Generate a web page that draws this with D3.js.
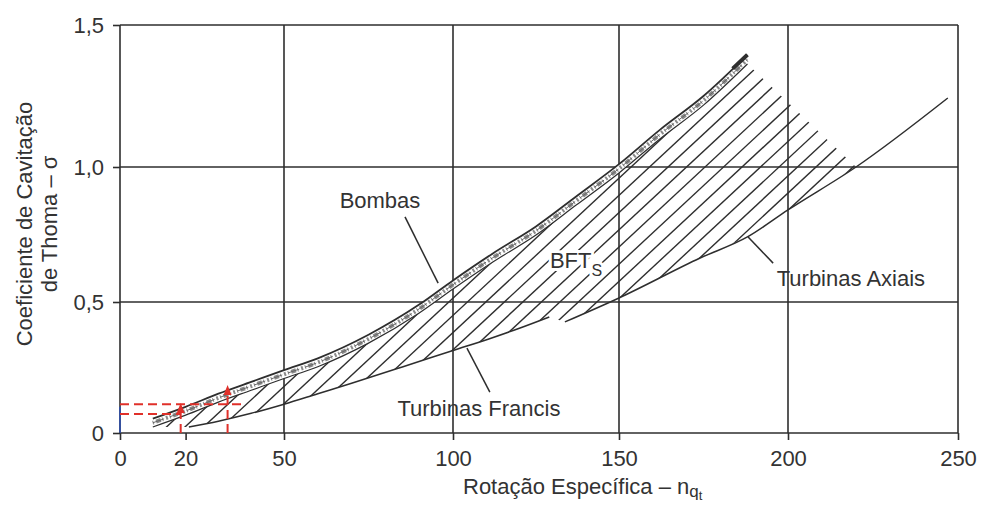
<!DOCTYPE html>
<html><head><meta charset="utf-8">
<script src="https://cdn.jsdelivr.net/npm/d3@7"></script>
<style>
body{margin:0;background:#fff}
svg text{font-family:"Liberation Sans",Arial,Helvetica,sans-serif;fill:#333}
</style></head><body>
<svg id="c" width="981" height="508"></svg>
<script>
// ---- data ----
const xTicks=[0,20,50,100,150,200,250];
const xGrid=[50,100,150,200,250];
const yTicks=[0,0.5,1.0,1.5];
const yTickLabels=["0","0,5","1,0","1,5"];
// upper boundary (Bombas band)
const bombasX=[10,20,30,40,50,60,75,90,100,112,125,137,150,162,175,188];
const bombasY=[0.055,0.10,0.15,0.195,0.24,0.285,0.375,0.49,0.58,0.68,0.78,0.89,1.01,1.13,1.25,1.395];
const bandWidth=0.032;
// lower boundary: Turbinas Francis
const francisX=[21,30,40,50,60,70,85,100,111,120,129];
const francisY=[0.023,0.045,0.075,0.11,0.15,0.19,0.252,0.315,0.36,0.40,0.443];
// lower boundary: Turbinas Axiais
const axiaisX=[133.7,150,174,188,200,220,247];
const axiaisY=[0.424,0.515,0.663,0.741,0.841,1.0,1.243];
// red reading guides
const guideH=[[0,37,0.11],[0,18.5,0.0725]];      // [x0,x1,y]
const guideV=[[18.5,0,0.095],[32.8,0,0.164]];    // [x,y0,y1]
// labels and leader lines
const labelNames=["Bombas","Turbinas Francis","Turbinas Axiais"];
const labelX=[78.4,107.8,218.5];
const labelY=[0.848,0.065,0.559];
const leaderFrom=[[85.8,0.815],[104.2,0.324],[188.2,0.741]];
const leaderTo=[[95.6,0.570],[111.1,0.156],[195.6,0.644]];
const bftX=129.2, bftY=0.626;

// ---- scales ----
const svg=d3.select("#c");
const x=d3.scaleLinear().domain([0,50,100,150,200,250]).range([120,284,453,619,788,958]);
const y=d3.scaleLinear().domain([0,0.5,1.0,1.5]).range([433,302,167,25]);
const ink="#2e2e2e";

const bombasPts=bombasX.map((d,i)=>[d,bombasY[i]]);
const bandLowPts=bombasX.map((d,i)=>[d,bombasY[i]-bandWidth]);
const francisPts=francisX.map((d,i)=>[d,francisY[i]]);
const axiaisPts=axiaisX.map((d,i)=>[d,axiaisY[i]]);

const line=d3.line().x(d=>x(d[0])).y(d=>y(d[1])).curve(d3.curveMonotoneX);
const lineLin=d3.line().x(d=>x(d[0])).y(d=>y(d[1]));

// ---- grid & frame ----
const g=svg.append("g");
g.selectAll(".gh").data(yTicks).join("line")
 .attr("x1",x(0)).attr("x2",x(250)).attr("y1",d=>y(d)).attr("y2",d=>y(d))
 .attr("stroke",ink).attr("stroke-width",1.6);
g.selectAll(".gv").data([0].concat(xGrid)).join("line")
 .attr("x1",d=>x(d)).attr("x2",d=>x(d)).attr("y1",y(0)).attr("y2",y(1.5))
 .attr("stroke",ink).attr("stroke-width",1.6);
// blue piece on y axis
g.append("line").attr("x1",x(0)).attr("x2",x(0)).attr("y1",y(0)).attr("y2",y(0.1))
 .attr("stroke","#2d4fb0").attr("stroke-width",1.6);

// ---- axes ----
const ax=svg.append("g").attr("transform",`translate(0,${y(0)})`)
 .call(d3.axisBottom(x).tickValues(xTicks).tickSize(7).tickPadding(10).tickFormat(d=>d));
const ay=svg.append("g").attr("transform",`translate(${x(0)},0)`)
 .call(d3.axisLeft(y).tickValues(yTicks).tickSize(7).tickPadding(9).tickFormat((d,i)=>yTickLabels[i]));
[ax,ay].forEach(a=>{
  a.select(".domain").remove();
  a.selectAll("line").attr("stroke",ink).attr("stroke-width",1.6);
  a.selectAll("text").style("font-size","22px").attr("fill","#333");
});

// ---- hatched region ----
const axRev=axiaisPts.slice(0,6).reverse();
const frRev=francisPts.slice().reverse();
const clipD=lineLin(bandLowPts.concat(axRev,frRev))+"Z";
svg.append("clipPath").attr("id","hclip").append("path").attr("d",clipD);
const hatch=svg.append("g").attr("clip-path","url(#hclip)");
const slope=0.93, step=18.5;
const starts=d3.range(-40,60).map(k=>x(0)+k*step);
hatch.selectAll("line").data(starts).join("line")
 .attr("x1",d=>d).attr("y1",y(0)+20)
 .attr("x2",d=>d+500).attr("y2",y(0)+20-500*slope)
 .attr("stroke",ink).attr("stroke-width",1.4);

// ---- Bombas band ----
const bandArea=d3.area().x(d=>x(d[0])).y0(d=>y(d[1]-bandWidth)).y1(d=>y(d[1])).curve(d3.curveMonotoneX);
svg.append("path").datum(bombasPts).attr("d",bandArea).attr("fill","#fff");
svg.append("path").datum(bombasPts.map(d=>[d[0],d[1]-bandWidth*0.5]))
 .attr("d",line).attr("fill","none").attr("stroke","#8a8a8a").attr("stroke-width",4)
 .attr("stroke-dasharray","1,2.5,5,1.5,1,3,2,2");
svg.append("path").datum(bombasPts.map(d=>[d[0],d[1]-bandWidth*0.5]))
 .attr("d",line).attr("fill","none").attr("stroke","#666").attr("stroke-width",1)
 .attr("stroke-dasharray","12,6");
svg.append("path").datum(bombasPts).attr("d",line).attr("fill","none").attr("stroke",ink).attr("stroke-width",1.8);
svg.append("path").datum(bandLowPts).attr("d",line).attr("fill","none").attr("stroke",ink).attr("stroke-width",1.2);
// thick end of band
svg.append("path").datum(bombasPts.slice(-2)).attr("d",lineLin).attr("fill","none")
 .attr("stroke",ink).attr("stroke-width",4).attr("stroke-dasharray","0,40,30");

// ---- lower curves ----
svg.append("path").datum(francisPts).attr("d",line).attr("fill","none").attr("stroke",ink).attr("stroke-width",1.5);
svg.append("path").datum(axiaisPts).attr("d",line).attr("fill","none").attr("stroke",ink).attr("stroke-width",1.5);

// ---- leaders & labels ----
svg.selectAll(".ld").data(leaderFrom).join("line")
 .attr("x1",d=>x(d[0])).attr("y1",d=>y(d[1]))
 .attr("x2",(d,i)=>x(leaderTo[i][0])).attr("y2",(d,i)=>y(leaderTo[i][1]))
 .attr("stroke",ink).attr("stroke-width",1.5);
svg.selectAll(".lb").data(labelNames).join("text")
 .attr("x",(d,i)=>x(labelX[i])).attr("y",(d,i)=>y(labelY[i]))
 .attr("text-anchor","middle").style("font-size","22px").text(d=>d);
const bft=svg.append("text").attr("x",x(bftX)).attr("y",y(bftY)).style("font-size","22px")
 .attr("stroke","#fff").attr("stroke-width",6).attr("paint-order","stroke");
bft.append("tspan").text("BFT");
bft.append("tspan").attr("dy",8).style("font-size","16px").text("S");

// ---- red guides ----
const defs=svg.append("defs");
defs.append("marker").attr("id","ar").attr("viewBox","0 0 10 10").attr("refX",5).attr("refY",5)
 .attr("markerWidth",5).attr("markerHeight",6).attr("orient","auto")
 .append("path").attr("d","M0,1 L10,5 L0,9 Z").attr("fill","#e0302a");
svg.selectAll(".rh").data(guideH).join("line")
 .attr("x1",d=>x(d[0])).attr("x2",d=>x(d[1])).attr("y1",d=>y(d[2])).attr("y2",d=>y(d[2]))
 .attr("stroke","#e0302a").attr("stroke-width",2).attr("stroke-dasharray","9,5");
svg.selectAll(".rv").data(guideV).join("line")
 .attr("x1",d=>x(d[0])).attr("x2",d=>x(d[0])).attr("y1",d=>y(d[1])).attr("y2",d=>y(d[2]))
 .attr("stroke","#e0302a").attr("stroke-width",2).attr("stroke-dasharray","9,5")
 .attr("marker-end","url(#ar)");

// ---- axis titles ----
const xt=svg.append("text").attr("x",463).attr("y",494).style("font-size","22px");
xt.append("tspan").text("Rotação Específica – n");
xt.append("tspan").attr("dy",3).style("font-size","17px").text("q");
xt.append("tspan").attr("dy",3).style("font-size","13px").text("t");
const yt=svg.append("g").attr("transform","translate(32,224) rotate(-90)");
yt.append("text").attr("text-anchor","middle").style("font-size","22px").text("Coeficiente de Cavitação");
yt.append("text").attr("text-anchor","middle").attr("y",25).style("font-size","22px").text("de Thoma – σ");
</script>
</body></html>
